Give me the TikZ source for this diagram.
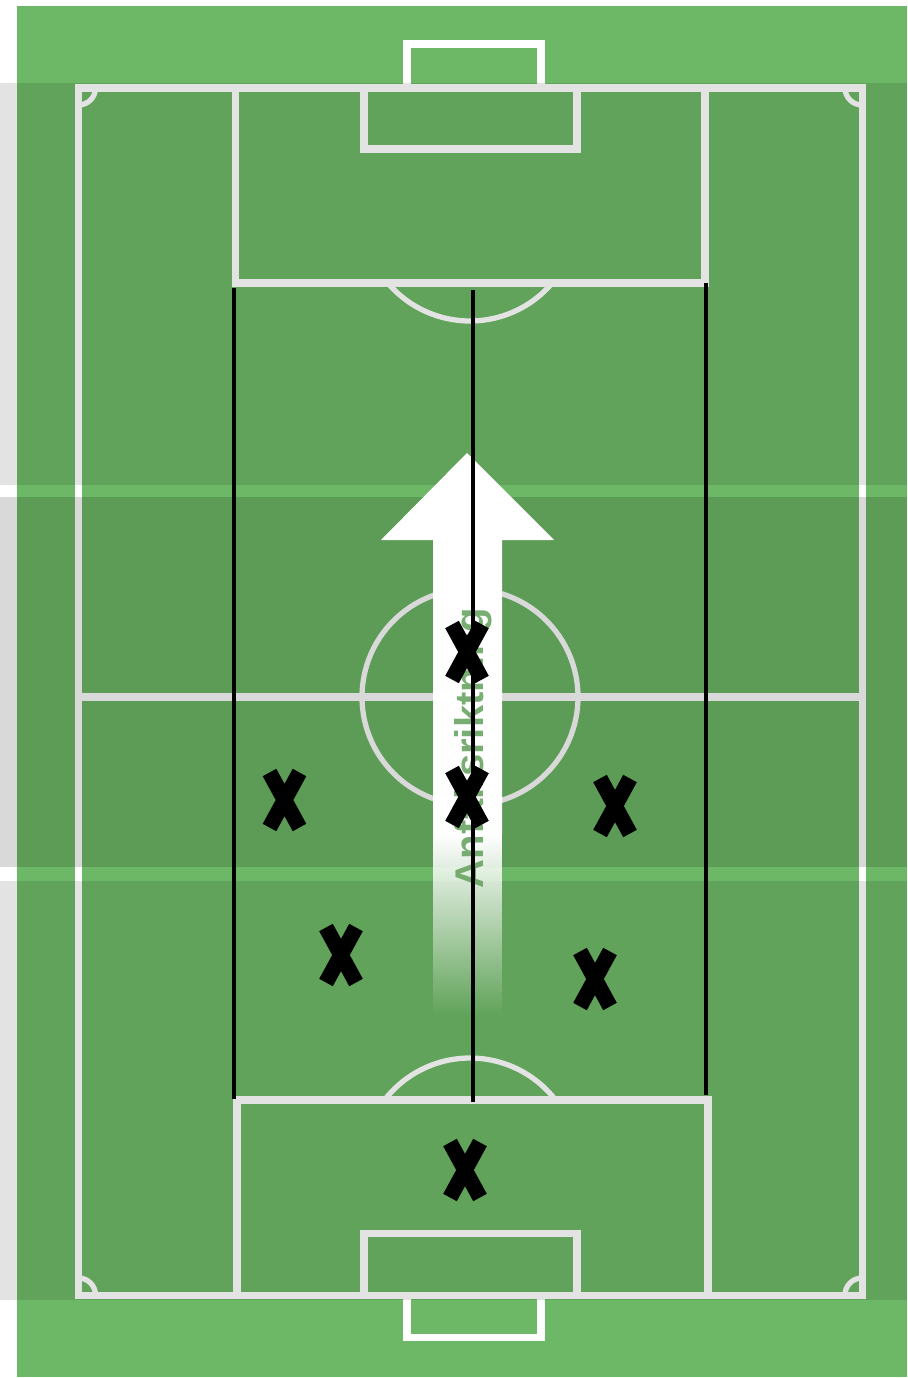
\documentclass[tikz,border=0pt]{standalone}
\usepackage{fontspec}
\setmainfont{Liberation Sans}
\usepackage{tikz}
\usetikzlibrary{fadings}
\definecolor{turfgreen}{RGB}{109,184,102}
\definecolor{notegreen}{RGB}{98,160,90}
\tikzfading[name=shaftfade, top color=transparent!0, bottom color=transparent!100]
\tikzset{
  turf/.style={fill=turfgreen},
  chalkline/.style={draw=white, line width=4pt},
  chalkthin/.style={draw=white, line width=3pt},
  band/.style={fill=black, fill opacity=0.11},
  darkband/.style={fill=black, fill opacity=0.15},
  lane/.style={draw=black, line width=2pt},
  attack/.style={fill=white},
  dirnote/.style={font=\bfseries\fontsize{22.8}{26}\selectfont, text=notegreen, text opacity=0.85, inner sep=0pt},
  cross/.pic={\draw[line width=8.8pt, line cap=butt] (-15,-27.5) -- (15,27.5) (15,-27.5) -- (-15,27.5);}
}

\begin{document}
\begin{tikzpicture}[x=0.02cm, y=-0.02cm]
  \useasboundingbox (0,0) rectangle (907,1378);
  \fill[white] (0,0) rectangle (907,1378);
  \fill[turf] (17,6) rectangle (907,1377);
  % pitch markings
  \draw[chalkline] (78.5,88) rectangle (862,1295);
  \draw[chalkline] (78.5,697) -- (862,697);
  \draw[chalkthin] (470,697) circle[radius=108];
  \draw[chalkline] (235.5,88) rectangle (705,283);
  \draw[chalkline] (364,88) rectangle (577,149);
  \draw[chalkline] (407,44) rectangle (541,88);
  \draw[chalkline] (237,1100) rectangle (708,1295);
  \draw[chalkline] (364,1233) rectangle (577,1295);
  \draw[chalkline] (407,1295) rectangle (541,1337);
  \draw[chalkthin] (470,213) ++(40.4:108) arc[start angle=40.4, end angle=139.6, radius=108];
  \draw[chalkthin] (470,1166) ++(-37.7:108) arc[start angle=-37.7, end angle=-142.3, radius=108];
  \draw[chalkthin] (95.5,88) arc[start angle=0, end angle=90, radius=17];
  \draw[chalkthin] (862,105) arc[start angle=90, end angle=180, radius=17];
  \draw[chalkthin] (78.5,1278) arc[start angle=270, end angle=360, radius=17];
  \draw[chalkthin] (845,1295) arc[start angle=180, end angle=270, radius=17];
  % shaded thirds
  \fill[band] (0,83) rectangle (907,485);
  \fill[darkband] (0,497) rectangle (907,867);
  \fill[band] (0,881) rectangle (907,1300);
  % direction of play
  \fill[attack] (433,540) -- (381,540) -- (467,453) -- (554,540) -- (502,540) -- (502,835) -- (433,835) -- cycle;
  \fill[white, path fading=shaftfade] (433,835) rectangle (502,1015);
  \node[dirnote, rotate=90] (dir) at (473.5,748) {Anfallsriktning};
  % lanes
  \draw[lane] (234,288) -- (234,1099);
  \draw[lane] (473,290) -- (473,1102);
  \draw[lane] (706,283) -- (706,1095);
  % players
  \pic (p1) at (467,652) {cross};
  \pic (p2) at (467,797) {cross};
  \pic (p3) at (284.5,800) {cross};
  \pic (p4) at (615,806) {cross};
  \pic (p5) at (341,955) {cross};
  \pic (p6) at (595,979) {cross};
  \pic (p7) at (465,1170) {cross};
\end{tikzpicture}
\end{document}
